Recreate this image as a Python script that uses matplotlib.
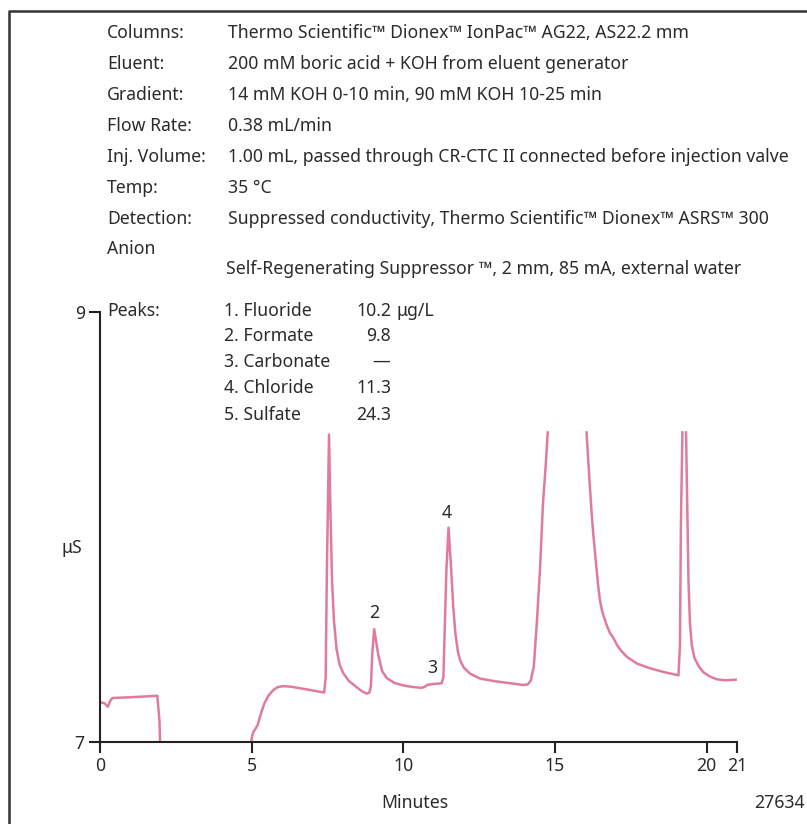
import numpy as np
import matplotlib
matplotlib.use("Agg")
import matplotlib.pyplot as plt
from matplotlib.lines import Line2D

plt.rcParams["font.family"] = ["Noto Sans", "DejaVu Sans"]

# conductivity trace (minutes, µS); nan marks where the trace runs off scale
times = [0.0, 0.15, 0.26, 0.33, 0.4, 0.44, 1.0, 1.5, 1.89, 1.96, 2.0,
         np.nan,
         4.96, 4.98, 5.02, 5.06, 5.12, 5.2, 5.3, 5.42, 5.55, 5.7, 5.85, 6.04,
         6.3, 6.6, 7.0, 7.39,
         7.44, 7.48, 7.55, 7.6, 7.65, 7.71, 7.8, 7.9, 8.02, 8.2, 8.46, 8.65,
         8.79, 8.88, 8.93, 8.98, 9.04, 9.1, 9.18, 9.3, 9.45, 9.7, 10.0,
         10.3, 10.6, 10.7, 10.8, 11.0, 11.26,
         11.32, 11.36, 11.42, 11.49, 11.57, 11.65, 11.72, 11.8, 11.87, 12.0,
         12.2, 12.53, 13.0, 13.6, 13.96, 14.1, 14.2, 14.3, 14.4, 14.51, 14.6,
         14.7, 14.76,
         np.nan,
         16.04, 16.1, 16.2, 16.26, 16.32, 16.42, 16.48, 16.55, 16.7, 16.81,
         16.9, 17.05, 17.15, 17.36, 17.7, 18.13, 18.6, 19.07, 19.12, 19.15, 19.2,
         np.nan,
         19.32, 19.36, 19.4, 19.45, 19.51, 19.6, 19.75, 19.89, 20.1, 20.33,
         20.6, 20.99]
signal = [7.185, 7.18, 7.164, 7.19, 7.203, 7.205, 7.208, 7.212, 7.215, 7.1, 6.9,
          np.nan,
          6.9, 7.0, 7.03, 7.048, 7.06, 7.08, 7.13, 7.18, 7.215, 7.24, 7.255, 7.26,
          7.257, 7.25, 7.24, 7.23,
          7.3, 7.8, 8.43, 8.05, 7.75, 7.57, 7.43, 7.36, 7.32, 7.285, 7.255, 7.235,
          7.225, 7.23, 7.26, 7.42, 7.525, 7.47, 7.4, 7.33, 7.298, 7.275, 7.263,
          7.256, 7.252, 7.256, 7.266, 7.27, 7.273,
          7.3, 7.5, 7.8, 7.997, 7.82, 7.62, 7.5, 7.42, 7.38, 7.345,
          7.318, 7.295, 7.283, 7.272, 7.265, 7.268, 7.285, 7.35, 7.55, 7.815, 8.1,
          8.3, 8.44,
          np.nan,
          8.44, 8.3, 8.08, 7.97, 7.88, 7.73, 7.66, 7.61, 7.545, 7.507,
          7.49, 7.45, 7.43, 7.397, 7.365, 7.343, 7.325, 7.31, 7.45, 8.0, 8.44,
          np.nan,
          8.44, 8.1, 7.75, 7.55, 7.45, 7.39, 7.35, 7.325, 7.305, 7.292,
          7.287, 7.29]

peak_nums = ["2", "3", "4"]
peak_x = [9.03, 10.95, 11.44]
peak_y = [7.6, 7.344, 8.065]

cond_rows = [
    ("Columns:", "Thermo Scientific\u2122 Dionex\u2122 IonPac\u2122 AG22, AS22.2 mm"),
    ("Eluent:", "200 mM boric acid + KOH from eluent generator"),
    ("Gradient:", "14 mM KOH 0-10 min, 90 mM KOH 10-25 min"),
    ("Flow Rate:", "0.38 mL/min"),
    ("Inj. Volume:", "1.00 mL, passed through CR-CTC II connected before injection valve"),
    ("Temp:", "35 \u00b0C"),
    ("Detection:", "Suppressed conductivity, Thermo Scientific\u2122 Dionex\u2122 ASRS\u2122 300"),
    ("Anion", ""),
]
detection_cont = "Self-Regenerating Suppressor \u2122, 2 mm, 85 mA, external water"

analytes = ["1. Fluoride", "2. Formate", "3. Carbonate", "4. Chloride", "5. Sulfate"]
amounts = ["10.2", "9.8", "\u2014", "11.3", "24.3"]

W, H = 807, 824
fig = plt.figure(figsize=(W / 100, H / 100), dpi=100)
ink = "#2b2b2b"
fs = 12.7


def px(x, y):
    return x / W, 1 - y / H


# outer frame: top and left edges of the box, running off the canvas
frame_x = [9 / W, 9 / W, 1.1]
frame_y = [-0.1, 1 - 11 / H, 1 - 11 / H]
fig.add_artist(Line2D(frame_x, frame_y, lw=1.8, color="#333333",
                      transform=fig.transFigure))

row_y = [33, 64, 95, 126, 157, 188, 219, 249]
for (lab, val), y in zip(cond_rows, row_y):
    fig.text(*px(107, y), lab, fontsize=fs, color=ink, va="center")
    if val:
        fig.text(*px(228, y), val, fontsize=fs, color=ink, va="center")
fig.text(*px(226, 269), detection_cont, fontsize=fs, color=ink, va="center")

fig.text(*px(107, 311), "Peaks:", fontsize=fs, color=ink, va="center")
peak_row_y = [311, 336, 362, 388, 415]
for name, amt, y in zip(analytes, amounts, peak_row_y):
    fig.text(*px(224, y), name, fontsize=fs, color=ink, va="center")
    if amt == "\u2014":
        fig.text(*px(381, y), amt, fontsize=fs, color=ink, va="center", ha="center")
    else:
        fig.text(*px(391, y), amt, fontsize=fs, color=ink, va="center", ha="right")
fig.text(*px(396, 311), "\u03bcg/L", fontsize=fs, color=ink, va="center")

ax = fig.add_axes([100 / W, 82 / H, 637 / W, 430 / H])
ax.plot(times, signal, color="#e07a9e", lw=1.8)
for n, x, y in zip(peak_nums, peak_x, peak_y):
    ax.text(x, y, n, fontsize=fs, color=ink, ha="center", va="center")

ax.set_xlim(0, 21)
ax.set_ylim(7, 9)
ax.set_xticks([0, 5, 10, 15, 20, 21])
ax.set_yticks([7, 9])
ax.tick_params(length=8, width=1.5, color="#222222", labelsize=fs,
               labelcolor=ink, pad=3)
for side in ["top", "right"]:
    ax.spines[side].set_visible(False)
for side in ["left", "bottom"]:
    ax.spines[side].set_linewidth(1.5)
    ax.spines[side].set_color("#222222")

fig.text(*px(72, 548), "\u03bcS", fontsize=fs, color=ink, va="center", ha="center")
fig.text(*px(415, 803), "Minutes", fontsize=fs, color=ink, va="center", ha="center")
fig.text(*px(805, 803), "27634", fontsize=fs, color=ink, va="center", ha="right")

fig.savefig("out.png", dpi=100)
